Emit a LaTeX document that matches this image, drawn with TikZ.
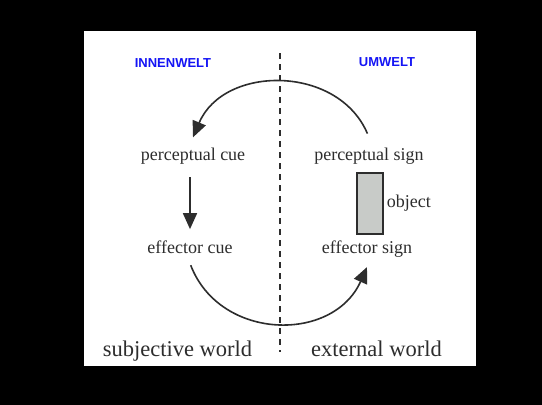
\documentclass[tikz,border=0pt]{standalone}
\usepackage{fontspec}
\setmainfont{Liberation Serif}
\setsansfont{Liberation Sans}
\usetikzlibrary{arrows.meta,positioning}
\definecolor{WeltBlue}{RGB}{20,20,245}
\definecolor{InkGray}{RGB}{45,45,45}
\definecolor{ObjGray}{RGB}{200,203,200}

\begin{document}
\begin{tikzpicture}[x=1pt, y=1pt,
    every node/.style={text=InkGray, font=\fontsize{18}{20}\selectfont, inner xsep=2pt, inner ysep=10pt},
    title/.style={text=WeltBlue, font=\sffamily\bfseries\fontsize{13}{15}\selectfont, inner sep=0pt},
    world/.style={font=\fontsize{22.5}{25}\selectfont, inner sep=0pt, anchor=base},
    cue/.style={anchor=base},
    flow/.style={draw=InkGray, line width=1.6pt, -{Triangle[length=16pt, width=14pt]}}]
    % frame
    \fill[black] (0,0) rectangle (542,-405);
    \fill[white] (84,-31) rectangle (476,-366);

    \node[title] (inner) at (173,-63) {INNENWELT};
    \node[title] (umwelt) at (387,-62) {UMWELT};

    \coordinate (divtop) at (280,-53);
    \coordinate (divbot) at (280,-352);
    \draw[InkGray, line width=2pt, dash pattern=on 6pt off 5pt] (divtop) -- (divbot);

    \node[cue] (pcue) at (193,-160) {perceptual cue};
    \node[cue] (ecue) at (190,-253) {effector cue};
    \node[cue] (psign) at (369,-160) {perceptual sign};
    \node[cue] (esign) at (367,-253) {effector sign};

    \node[draw=InkGray, line width=1.5pt, fill=ObjGray, minimum width=26pt, minimum height=61pt, inner sep=0pt] (obj) at (370,-203.5) {};
    \node[right=3pt of obj, inner sep=0pt] (objtext) {object};

    \node[world] (subj) at (177.5,-356) {subjective world};
    \node[world] (ext) at (376.5,-356) {external world};

    \draw[flow, shorten <=4pt] (psign.north) to[out=113, in=67, looseness=1.15] (pcue.north);
    \draw[flow, line width=1.8pt, shorten <=3pt, shorten >=1pt] (ecue.north |- pcue.south) -- (ecue.north);
    \draw[flow, shorten <=2pt] (ecue.south) to[out=291, in=246, looseness=1.2] (esign.south);
\end{tikzpicture}
\end{document}
